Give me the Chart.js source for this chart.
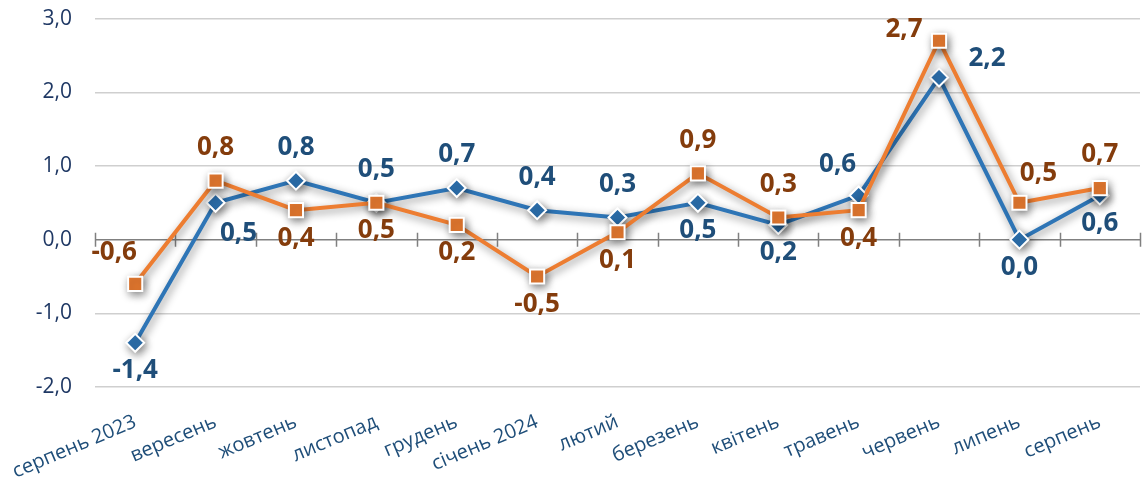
<!DOCTYPE html>
<html>
<head>
<meta charset="utf-8">
<script src="https://cdn.jsdelivr.net/npm/chart.js@4/dist/chart.umd.min.js"></script>
<style>
  html, body { margin: 0; padding: 0; background: #ffffff; overflow: hidden; }
  #wrap { position: relative; width: 1152px; height: 498px; margin-top: -17px; }
</style>
</head>
<body>
<div id="wrap"><canvas id="c"></canvas></div>
<script>
const categories = ['серпень 2023','вересень','жовтень','листопад','грудень','січень 2024','лютий','березень','квітень','травень','червень','липень','серпень'];
const seriesBlue = [-1.4, 0.5, 0.8, 0.5, 0.7, 0.4, 0.3, 0.5, 0.2, 0.6, 2.2, 0.0, 0.6];
const seriesOrange = [-0.6, 0.8, 0.4, 0.5, 0.2, -0.5, 0.1, 0.9, 0.3, 0.4, 2.7, 0.5, 0.7];
const yTicks = [-2, -1, 0, 1, 2, 3];

// label placement keywords (style only)
const blueLabelPlace = ['bottom','bottomRight','top','top','top','top','top','bottom','bottom','topLeft','right','bottom','bottom'];
const orangeLabelPlace = ['topLeft','top','bottom','bottom','bottom','bottom','bottom','top','top','bottom','left','topRight','top'];

const placeOffsets = {
  top: [0, -33], bottom: [0, 28], topLeft: [-21, -31], topRight: [19, -29],
  bottomRight: [23, 31], left: [-35, -11], right: [48, -19]
};

const fmt = v => v.toFixed(1).replace('.', ',');

const shadowPlugin = {
  id: 'shadow',
  beforeDatasetDraw(chart) {
    const ctx = chart.ctx;
    ctx.save();
    ctx.shadowColor = 'rgba(0,0,0,0.45)';
    ctx.shadowBlur = 8;
    ctx.shadowOffsetX = 2;
    ctx.shadowOffsetY = 3;
  },
  afterDatasetDraw(chart) {
    chart.ctx.restore();
  }
};

const zeroLinePlugin = {
  id: 'zeroLine',
  beforeDatasetsDraw(chart) {
    const ctx = chart.ctx;
    const xs = chart.scales.x, ys = chart.scales.y;
    const y0 = ys.getPixelForValue(0);
    ctx.save();
    ctx.strokeStyle = '#808080';
    ctx.lineWidth = 1.5;
    ctx.beginPath();
    ctx.moveTo(chart.chartArea.left, y0);
    ctx.lineTo(chart.chartArea.right, y0);
    const half = (xs.getPixelForValue(1) - xs.getPixelForValue(0)) / 2;
    for (let i = 0; i <= categories.length; i++) {
      const x = Math.round(xs.getPixelForValue(i) - half) + 0.5;
      ctx.moveTo(x, y0 - 7);
      ctx.lineTo(x, y0 + 7);
    }
    ctx.stroke();
    ctx.restore();
  }
};

const labelPlugin = {
  id: 'valueLabels',
  afterDatasetsDraw(chart) {
    const ctx = chart.ctx;
    ctx.save();
    ctx.font = 'bold 26px "Open Sans"';
    ctx.textAlign = 'center';
    ctx.textBaseline = 'middle';
    chart.data.datasets.forEach((ds, di) => {
      const meta = chart.getDatasetMeta(di);
      ctx.fillStyle = ds.labelColor;
      meta.data.forEach((pt, i) => {
        const off = placeOffsets[ds.labelPlace[i]];
        ctx.fillText(fmt(ds.data[i]), pt.x + off[0], pt.y + off[1]);
      });
    });
    ctx.restore();
  }
};

new Chart(document.getElementById('c'), {
  type: 'line',
  data: {
    labels: categories,
    datasets: [
      {
        data: seriesOrange,
        borderColor: '#ED7D31',
        backgroundColor: '#ED7D31',
        borderWidth: 4,
        pointStyle: 'rect',
        pointRadius: 10,
        pointBorderColor: '#ffffff',
        pointBorderWidth: 2,
        pointBackgroundColor: '#ED7D31',
        tension: 0,
        order: 0,
        labelColor: '#843C0C',
        labelPlace: orangeLabelPlace
      },
      {
        data: seriesBlue,
        borderColor: '#2E75B6',
        backgroundColor: '#2E75B6',
        borderWidth: 4,
        pointStyle: 'rectRot',
        pointRadius: 9,
        pointBorderColor: '#ffffff',
        pointBorderWidth: 2,
        pointBackgroundColor: '#2E75B6',
        tension: 0,
        order: 1,
        labelColor: '#1F4E79',
        labelPlace: blueLabelPlace
      }
    ]
  },
  options: {
    responsive: true,
    maintainAspectRatio: false,
    animation: false,
    layout: { padding: { top: 0, right: 0, left: 0, bottom: 0 } },
    plugins: { legend: { display: false }, tooltip: { enabled: false } },
    scales: {
      x: {
        offset: true,
        grid: { display: false },
        border: { display: false },
        ticks: {
          color: '#1F4E79',
          font: { family: '"Open Sans"', size: 20 },
          maxRotation: 23,
          minRotation: 23,
          padding: 15,
          autoSkip: false
        },
        afterFit(scale) {
          scale.height = 94;
          scale.paddingLeft = 0;
          scale.paddingRight = 0;
        }
      },
      y: {
        min: -2,
        max: 3,
        afterBuildTicks(scale) { scale.ticks = yTicks.map(v => ({ value: v })); },
        grid: {
          color: ctx => (ctx.tick && ctx.tick.value === 0) ? 'rgba(0,0,0,0)' : '#cfcfcf',
          lineWidth: 1.5,
          drawTicks: false
        },
        border: { display: false },
        ticks: {
          color: '#1F3864',
          font: { family: '"Open Sans"', size: 21 },
          padding: 23,
          callback: v => fmt(v)
        },
        afterFit(scale) { scale.width = 95; }
      }
    }
  },
  plugins: [zeroLinePlugin, shadowPlugin, labelPlugin]
});
</script>
</body>
</html>
